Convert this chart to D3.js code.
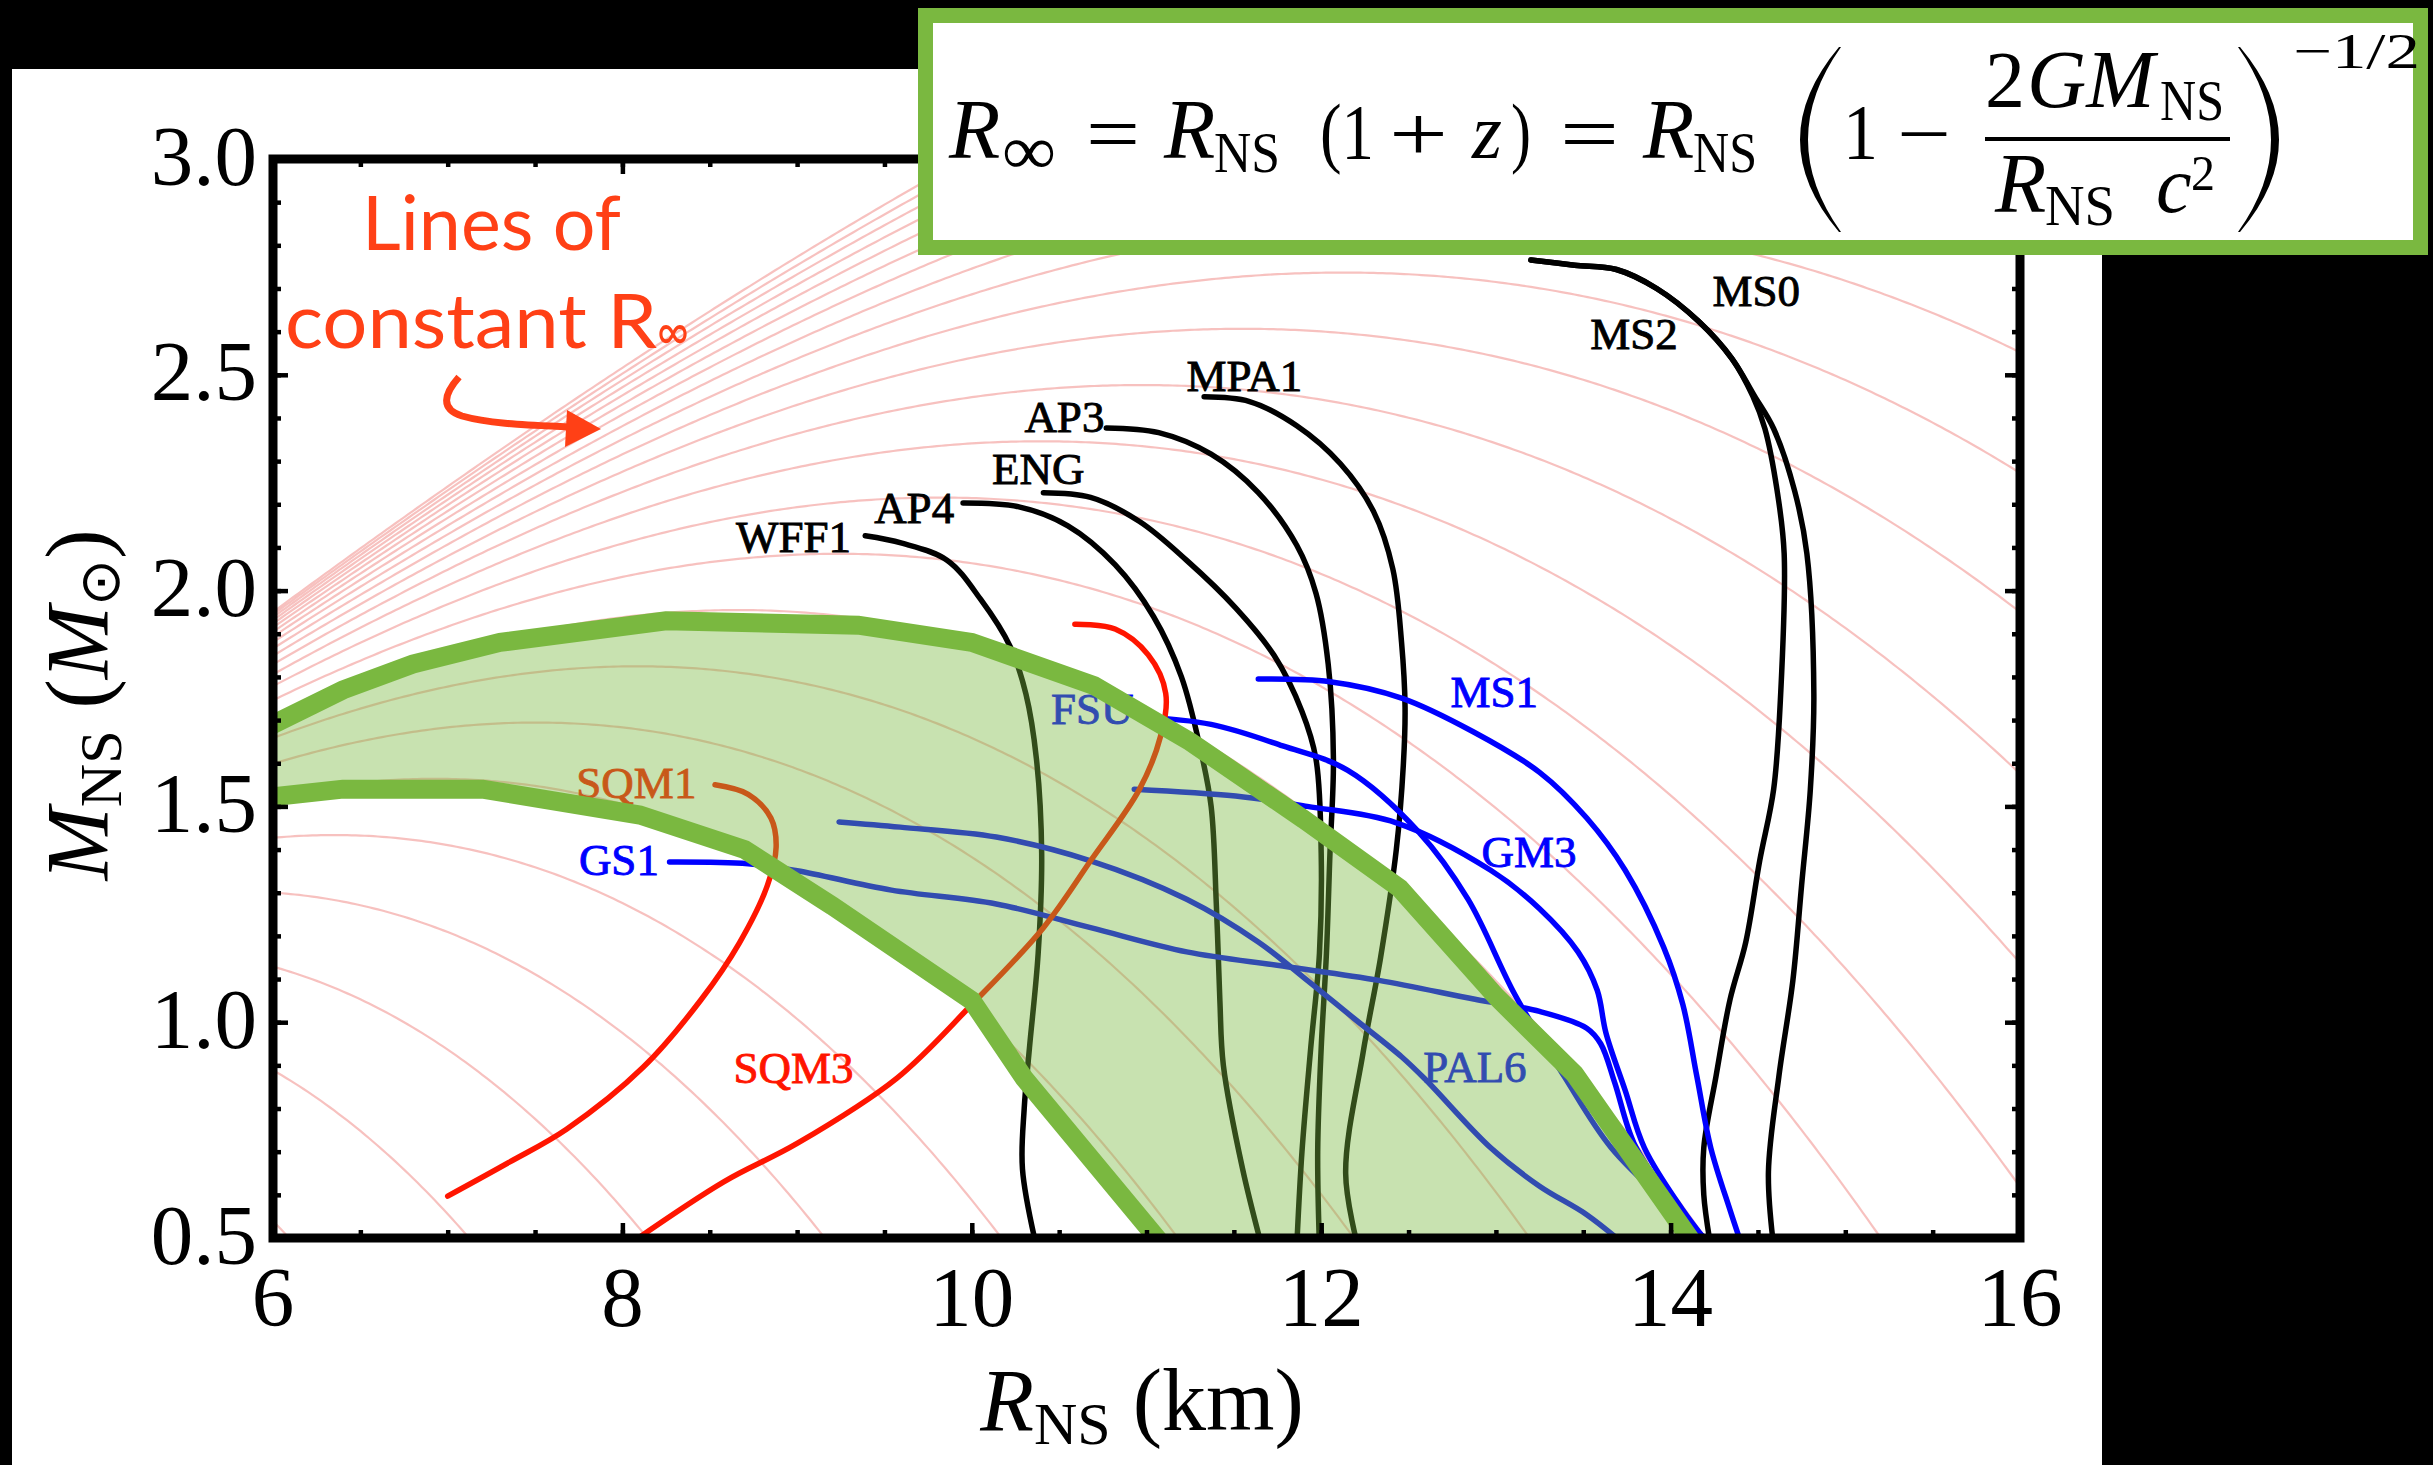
<!DOCTYPE html>
<html>
<head>
<meta charset="utf-8">
<script src="https://cdn.jsdelivr.net/npm/d3@7/dist/d3.min.js"></script>
<style>
  html, body { margin: 0; padding: 0; background: #000; }
  svg { display: block; }
  .serif { font-family: 'Liberation Serif', 'Times New Roman', serif; }
  .tick-label { font-size: 85px; fill: #000; }
  .eos-label { font-size: 45px; stroke-width: 0.9; }
  .note { font-family: Lato, 'Open Sans', sans-serif; fill: #ff4016; }
</style>
</head>
<body>
<svg id="chart" width="2433" height="1465"></svg>
<script>
'use strict';

// axis ticks
var xMajor = [6, 8, 10, 12, 14, 16];
var yMajor = [0.5, 1.0, 1.5, 2.0, 2.5, 3.0];

// R_inf (km) of the pale constant-R_inf lines
var rInfKm = [7, 8, 9, 10, 11, 12, 13, 14, 15, 16, 17, 18, 19, 20, 21, 22, 23, 24, 25, 26, 27, 28, 29, 30];
var SCHW_KM = 2.9533; // 2 G M_sun / c^2 in km

// mass-radius relations, [R_NS km, M_NS Msun]
var WFF1 = [[9.39, 2.127], [9.6, 2.11], [9.86, 2.07], [10.05, 1.98], [10.22, 1.87], [10.31, 1.76], [10.37, 1.61],
  [10.40, 1.39], [10.38, 1.16], [10.33, 0.94], [10.30, 0.80], [10.29, 0.66], [10.37, 0.48]];
var AP4 = [[9.95, 2.203], [10.27, 2.194], [10.55, 2.15], [10.82, 2.06], [11.04, 1.94], [11.2, 1.80], [11.31, 1.63],
  [11.37, 1.50], [11.40, 1.27], [11.42, 1.05], [11.44, 0.90], [11.55, 0.66], [11.66, 0.48]];
var ENG = [[10.41, 2.227], [10.68, 2.216], [10.96, 2.16], [11.23, 2.07], [11.51, 1.96], [11.73, 1.85], [11.89, 1.72],
  [11.97, 1.61], [12.0, 1.39], [11.99, 1.16], [11.94, 0.94], [11.89, 0.70], [11.86, 0.48]];
var AP3 = [[10.77, 2.377], [11.07, 2.366], [11.37, 2.316], [11.64, 2.227], [11.86, 2.105], [11.97, 1.994], [12.04, 1.83],
  [12.07, 1.61], [12.05, 1.39], [12.03, 1.16], [12.0, 0.94], [11.98, 0.70], [11.99, 0.48]];
var MPA1 = [[11.33, 2.449], [11.59, 2.438], [11.86, 2.382], [12.11, 2.294], [12.3, 2.183], [12.41, 2.05], [12.46, 1.88],
  [12.48, 1.73], [12.47, 1.595], [12.43, 1.40], [12.34, 1.15], [12.24, 0.93], [12.14, 0.65], [12.21, 0.48]];
var MS2 = [[13.2, 2.766], [13.45, 2.754], [13.69, 2.744], [13.92, 2.70], [14.16, 2.624], [14.35, 2.538], [14.47, 2.451],
  [14.54, 2.375], [14.61, 2.231], [14.65, 2.086], [14.63, 1.76], [14.59, 1.54], [14.51, 1.374], [14.43, 1.185],
  [14.34, 1.052], [14.26, 0.875], [14.19, 0.709], [14.19, 0.60], [14.23, 0.48]];
var MS0 = [[13.2, 2.766], [13.45, 2.754], [13.69, 2.744], [13.92, 2.70], [14.16, 2.624], [14.35, 2.538], [14.48, 2.451],
  [14.59, 2.375], [14.71, 2.231], [14.78, 2.086], [14.82, 1.76], [14.80, 1.54], [14.75, 1.318], [14.70, 1.097],
  [14.62, 0.875], [14.56, 0.653], [14.59, 0.48]];
var MS1 = [[11.64, 1.795], [12.05, 1.789], [12.46, 1.751], [12.87, 1.673], [13.25, 1.579], [13.52, 1.473], [13.74, 1.352],
  [13.96, 1.174], [14.07, 1.041], [14.15, 0.875], [14.23, 0.709], [14.34, 0.565], [14.41, 0.48]];
var FSU = [[10.95, 1.708], [11.37, 1.69], [11.78, 1.64], [12.15, 1.584], [12.56, 1.44], [12.84, 1.285], [13.11, 1.063],
  [13.39, 0.875], [13.66, 0.709], [14.02, 0.565], [14.25, 0.48]];
var GM3 = [[10.93, 1.540], [11.51, 1.524], [11.92, 1.50], [12.43, 1.462], [12.97, 1.352], [13.25, 1.263], [13.47, 1.163],
  [13.58, 1.074], [13.63, 0.975], [13.74, 0.842], [13.85, 0.709], [14.07, 0.565], [14.23, 0.48]];
var GS1 = [[8.27, 1.371], [8.72, 1.367], [9.0, 1.351], [9.54, 1.306], [10.14, 1.274], [10.68, 1.219], [11.23, 1.163],
  [11.78, 1.13], [12.33, 1.097], [12.88, 1.053], [13.25, 1.025], [13.52, 0.986], [13.6, 0.95], [13.68, 0.86],
  [13.79, 0.72], [13.98, 0.60], [14.22, 0.48]];
var PAL6 = [[9.24, 1.464], [9.59, 1.452], [10.14, 1.429], [10.68, 1.374], [11.23, 1.285], [11.64, 1.186], [11.92, 1.097],
  [12.19, 1.008], [12.46, 0.92], [12.6, 0.866], [12.97, 0.709], [13.25, 0.62], [13.52, 0.554], [13.75, 0.48]];
var SQM1 = [[8.53, 1.55], [8.72, 1.528], [8.85, 1.473], [8.88, 1.406], [8.83, 1.317], [8.67, 1.184], [8.45, 1.052],
  [8.12, 0.896], [7.68, 0.752], [7.35, 0.675], [7.0, 0.597]];
var SQM3 = [[10.59, 1.922], [10.82, 1.911], [11.01, 1.851], [11.11, 1.762], [11.08, 1.662], [10.96, 1.54], [10.68, 1.374],
  [10.41, 1.219], [10.0, 1.041], [9.57, 0.87], [9.0, 0.719], [8.58, 0.63], [8.02, 0.48]];

// label anchors (centre), [R_NS, M_NS]
var labelNames = ['WFF1', 'AP4', 'ENG', 'AP3', 'MPA1', 'MS2', 'MS0', 'MS1', 'GM3', 'PAL6', 'FSU', 'GS1', 'SQM1', 'SQM3'];
var labelAt = [[8.98, 2.127], [9.67, 2.194], [10.38, 2.283], [10.53, 2.405], [11.56, 2.499], [13.79, 2.596], [14.49, 2.696],
  [12.99, 1.767], [13.19, 1.396], [12.88, 0.897], [10.69, 1.728], [7.98, 1.378], [8.08, 1.556], [8.98, 0.896]];

// allowed band
var bandUpper = [[5.95, 1.68], [6.4, 1.77], [6.8, 1.83], [7.3, 1.88], [8.25, 1.93], [9.35, 1.92], [10.0, 1.88],
  [10.7, 1.78], [11.25, 1.65], [11.9, 1.47], [12.45, 1.31], [13.0, 1.06], [13.45, 0.88], [14.16, 0.47]];
var bandLower = [[5.95, 1.52], [6.4, 1.54], [7.2, 1.54], [8.1, 1.48], [8.7, 1.40], [9.2, 1.27], [10.0, 1.05],
  [10.3, 0.87], [11.12, 0.47]];

var BLACK = '#000', BLUE = '#0000ff', RED = '#ff1500';
var curves = [
  { name: 'WFF1', pts: WFF1, colour: BLACK }, { name: 'AP4', pts: AP4, colour: BLACK },
  { name: 'ENG', pts: ENG, colour: BLACK }, { name: 'AP3', pts: AP3, colour: BLACK },
  { name: 'MPA1', pts: MPA1, colour: BLACK }, { name: 'MS2', pts: MS2, colour: BLACK },
  { name: 'MS0', pts: MS0, colour: BLACK }, { name: 'MS1', pts: MS1, colour: BLUE },
  { name: 'GM3', pts: GM3, colour: BLUE }, { name: 'PAL6', pts: PAL6, colour: BLUE },
  { name: 'FSU', pts: FSU, colour: BLUE }, { name: 'GS1', pts: GS1, colour: BLUE },
  { name: 'SQM1', pts: SQM1, colour: RED }, { name: 'SQM3', pts: SQM3, colour: RED }
];

var PLOT = { left: 273, right: 2020, top: 159, bottom: 1238 };
var GREEN = '#7ab840';

var svg = d3.select('#chart');

var x = d3.scaleLinear().domain([6, 16]).range([PLOT.left, PLOT.right]);
var y = d3.scaleLinear().domain([0.5, 3.0]).range([PLOT.bottom, PLOT.top]);

// backdrop
svg.append('rect').attr('width', 2433).attr('height', 1465).attr('fill', '#000');
svg.append('rect').attr('x', 12).attr('y', 69).attr('width', 2090).attr('height', 1396).attr('fill', '#fff');

svg.append('clipPath').attr('id', 'plot-clip')
  .append('rect')
  .attr('x', PLOT.left).attr('y', PLOT.top)
  .attr('width', PLOT.right - PLOT.left).attr('height', PLOT.bottom - PLOT.top);

var plot = svg.append('g').attr('clip-path', 'url(#plot-clip)');

var line = d3.line()
  .x(function(d) { return x(d[0]); })
  .y(function(d) { return y(d[1]); });

var smooth = d3.line()
  .x(function(d) { return x(d[0]); })
  .y(function(d) { return y(d[1]); })
  .curve(d3.curveCatmullRom.alpha(0.5));

// lines of constant R_inf: M = R/(2GM_sun/c^2) * (1 - R^2/R_inf^2)
var rSamples = d3.range(5.9, 16.15, 0.025);
plot.append('g')
  .selectAll('path')
  .data(rInfKm)
  .enter()
  .append('path')
  .attr('fill', 'none')
  .attr('stroke', '#f2a09c')
  .attr('stroke-opacity', 0.65)
  .attr('stroke-width', 2.2)
  .attr('d', function(rInf) {
    var pts = rSamples
      .map(function(r) { return [r, r / SCHW_KM * (1 - r * r / (rInf * rInf))]; })
      .filter(function(p) { return p[1] > 0.3; });
    return line(pts);
  });

// EOS curves
plot.append('g')
  .selectAll('path')
  .data(curves)
  .enter()
  .append('path')
  .attr('fill', 'none')
  .attr('stroke', function(d) { return d.colour; })
  .attr('stroke-width', 5.5)
  .attr('stroke-linecap', 'round')
  .attr('d', function(d) { return smooth(d.pts); });

var colourOf = {};
curves.forEach(function(c) { colourOf[c.name] = c.colour; });

svg.append('g')
  .selectAll('text')
  .data(labelNames)
  .enter()
  .append('text')
  .attr('class', 'serif eos-label')
  .attr('x', function(d, i) { return x(labelAt[i][0]); })
  .attr('y', function(d, i) { return y(labelAt[i][1]); })
  .attr('dy', '0.35em')
  .attr('text-anchor', 'middle')
  .attr('fill', function(d) { return colourOf[d]; })
  .attr('stroke', function(d) { return colourOf[d]; })
  .text(function(d) { return d; });

// allowed band, translucent over the curves
var band = svg.append('g').attr('clip-path', 'url(#plot-clip)');
band.append('path')
  .attr('d', line(bandUpper.concat(bandLower.slice().reverse())) + 'Z')
  .attr('fill', GREEN)
  .attr('fill-opacity', 0.41);
[bandUpper, bandLower].forEach(function(edge) {
  band.append('path')
    .attr('d', line(edge))
    .attr('fill', 'none')
    .attr('stroke', GREEN)
    .attr('stroke-width', 19)
    .attr('stroke-linejoin', 'miter');
});

// ticks on all four sides, pointing inward
function ticks(axis, transform, values, size) {
  svg.append('g')
    .attr('transform', transform)
    .call(axis.tickValues(values).tickSize(size).tickFormat(''))
    .call(function(g) {
      g.select('.domain').remove();
      g.selectAll('line').attr('stroke', '#000').attr('stroke-width', 4.5);
    });
}
var xMinor = d3.range(6, 16.01, 0.5);
var yMinor = d3.range(0.5, 3.001, 0.1);
ticks(d3.axisBottom(x), 'translate(0,' + PLOT.bottom + ')', xMinor, -8);
ticks(d3.axisBottom(x), 'translate(0,' + PLOT.bottom + ')', xMajor, -15);
ticks(d3.axisTop(x), 'translate(0,' + PLOT.top + ')', xMinor, -8);
ticks(d3.axisTop(x), 'translate(0,' + PLOT.top + ')', xMajor, -15);
ticks(d3.axisLeft(y), 'translate(' + PLOT.left + ',0)', yMinor, -8);
ticks(d3.axisLeft(y), 'translate(' + PLOT.left + ',0)', yMajor, -15);
ticks(d3.axisRight(y), 'translate(' + PLOT.right + ',0)', yMinor, -8);
ticks(d3.axisRight(y), 'translate(' + PLOT.right + ',0)', yMajor, -15);

svg.append('rect')
  .attr('x', PLOT.left).attr('y', PLOT.top)
  .attr('width', PLOT.right - PLOT.left).attr('height', PLOT.bottom - PLOT.top)
  .attr('fill', 'none').attr('stroke', '#000').attr('stroke-width', 9);

// tick labels
svg.append('g')
  .selectAll('text')
  .data(xMajor)
  .enter()
  .append('text')
  .attr('class', 'serif tick-label')
  .attr('x', function(d) { return x(d); })
  .attr('y', PLOT.bottom + 88)
  .attr('text-anchor', 'middle')
  .text(function(d) { return d; });

svg.append('g')
  .selectAll('text')
  .data(yMajor)
  .enter()
  .append('text')
  .attr('class', 'serif tick-label')
  .attr('x', PLOT.left - 16)
  .attr('y', function(d) { return y(d); })
  .attr('dy', '0.3em')
  .attr('text-anchor', 'end')
  .text(function(d) { return d3.format('.1f')(d); });

// axis titles
var xTitle = svg.append('text')
  .attr('class', 'serif')
  .attr('x', 1142).attr('y', 1430)
  .attr('text-anchor', 'middle')
  .attr('font-size', 88);
xTitle.append('tspan').attr('font-style', 'italic').text('R');
xTitle.append('tspan').attr('font-size', 60).attr('dy', 14).text('NS');
xTitle.append('tspan').attr('dy', -14).text(' (km)');

var yTitle = svg.append('text')
  .attr('class', 'serif')
  .attr('transform', 'translate(107,705) rotate(-90)')
  .attr('text-anchor', 'middle')
  .attr('font-size', 88);
yTitle.append('tspan').attr('font-style', 'italic').text('M');
yTitle.append('tspan').attr('font-size', 60).attr('dy', 14).text('NS');
yTitle.append('tspan').attr('dy', -14).text(' (');
yTitle.append('tspan').attr('font-style', 'italic').text('M');
yTitle.append('tspan').attr('font-size', 56).attr('dy', 12).text('\u2299');
yTitle.append('tspan').attr('dy', -12).text(')');

// annotation
svg.append('text').attr('class', 'note')
  .attr('x', 362).attr('y', 250).attr('font-size', 75)
  .attr('textLength', 259).attr('lengthAdjust', 'spacingAndGlyphs')
  .text('Lines of');
svg.append('text').attr('class', 'note')
  .attr('x', 285).attr('y', 348).attr('font-size', 75)
  .attr('textLength', 372).attr('lengthAdjust', 'spacingAndGlyphs')
  .text('constant R');
svg.append('text').attr('class', 'note')
  .attr('x', 657).attr('y', 350).attr('font-size', 54)
  .attr('textLength', 32).attr('lengthAdjust', 'spacingAndGlyphs')
  .text('\u221e');
svg.append('path')
  .attr('d', 'M459,377 C444,394 440,409 462,416 C490,424 530,425 570,427')
  .attr('fill', 'none').attr('stroke', '#ff4016').attr('stroke-width', 7);
svg.append('path')
  .attr('d', 'M601,429 L567,410 L565,447 Z')
  .attr('fill', '#ff4016');

// equation box
svg.append('rect')
  .attr('x', 925.5).attr('y', 15.5).attr('width', 1495).attr('height', 232)
  .attr('fill', '#fff').attr('stroke', GREEN).attr('stroke-width', 15);

var eq = svg.append('g').attr('class', 'serif').attr('fill', '#000');
function eqText(str, px, py, size, italic, width) {
  var t = eq.append('text')
    .attr('x', px).attr('y', py)
    .attr('font-size', size)
    .attr('font-style', italic ? 'italic' : 'normal')
    .text(str);
  if (width) t.attr('textLength', width).attr('lengthAdjust', 'spacingAndGlyphs');
  return t;
}
function paren(px, open) {
  // tall bracket drawn as a crescent
  var top = 47, bot = 232, mid = 140, dir = open ? -1 : 1;
  var bulge = px + dir * 78;
  eq.append('path')
    .attr('d', 'M' + px + ',' + top + ' Q' + bulge + ',' + mid + ' ' + px + ',' + bot +
      ' L' + (px - dir * 2) + ',' + bot + ' Q' + (bulge - dir * 14) + ',' + mid + ' ' + (px - dir * 2) + ',' + top + ' Z');
}
eqText('R', 949, 158, 84, true);
eqText('\u221e', 1002, 174, 70, false, 54);
eqText('=', 1086, 160, 78, false, 54);
eqText('R', 1164, 158, 84, true);
eqText('NS', 1214, 172, 58, false, 66);
eqText('(1', 1320, 158, 78, false, 54);
eqText('+', 1389, 160, 78, false, 59);
eqText('z', 1472, 158, 78, true, 30);
eqText(')', 1511, 158, 78, false, 20);
eqText('=', 1560, 160, 78, false, 59);
eqText('R', 1643, 158, 84, true);
eqText('NS', 1693, 172, 58, false, 64);
paren(1839, true);
eqText('1', 1843, 158, 78, false, 35);
eqText('\u2212', 1897, 160, 78, false, 54);
eqText('2', 1985, 107, 80, false);
eqText('GM', 2027, 107, 82, true);
eqText('NS', 2160, 120, 58, false, 64);
eq.append('rect').attr('x', 1985).attr('y', 137).attr('width', 245).attr('height', 4);
eqText('R', 1995, 212, 84, true);
eqText('NS', 2045, 225, 58, false, 70);
eqText('c', 2156, 212, 80, true);
eqText('2', 2191, 190, 50, false, 24);
paren(2240, false);
eqText('\u22121/2', 2293, 68, 50, false, 127);
</script>
</body>
</html>
